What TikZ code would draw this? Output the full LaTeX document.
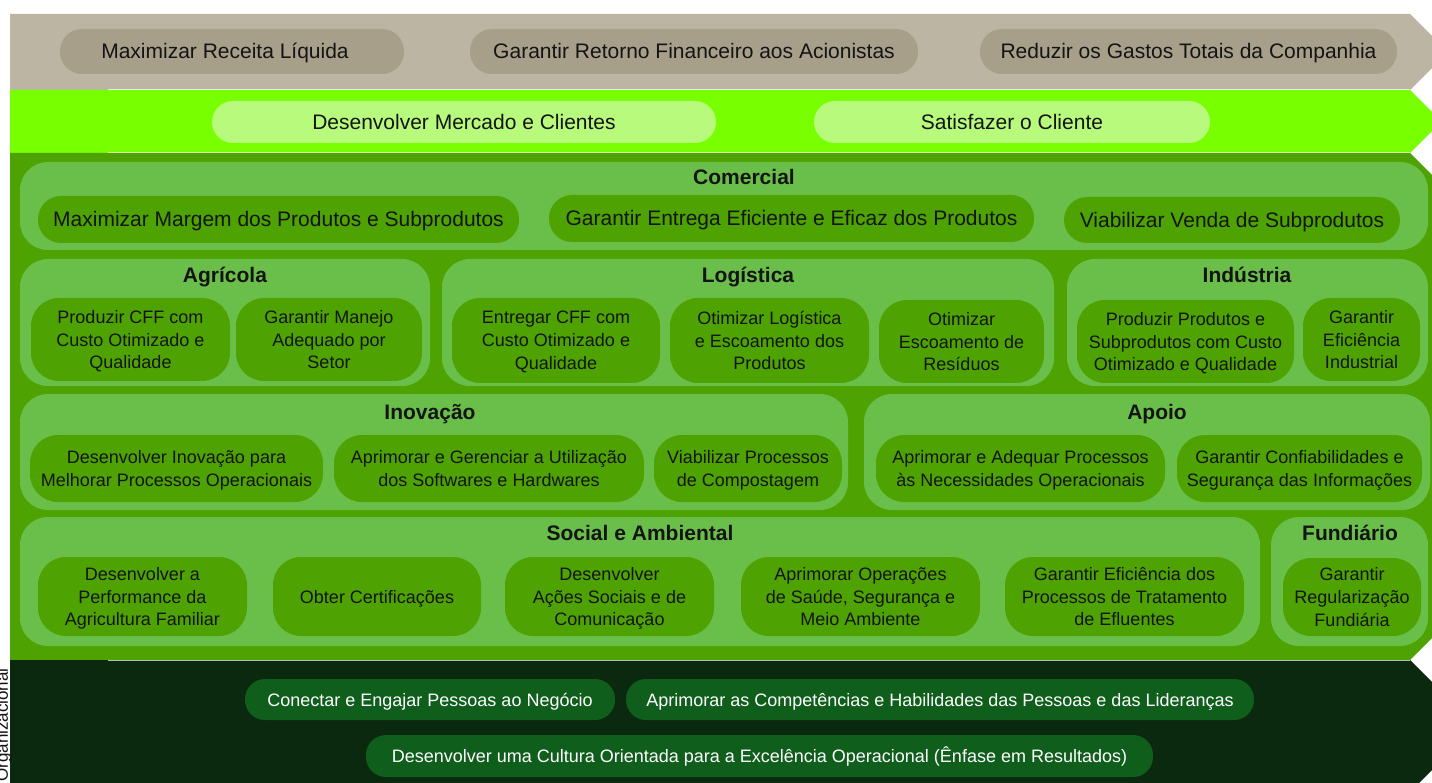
\documentclass[tikz,border=0pt]{standalone}
\usepackage{fontspec}
\setmainfont{Liberation Sans}
\usetikzlibrary{positioning}

\definecolor{bandgrey}{HTML}{BDB5A3}
\definecolor{pillgrey}{HTML}{A89F8A}
\definecolor{bandlime}{HTML}{78FF00}
\definecolor{pilllime}{HTML}{B8FA7C}
\definecolor{bandgreen}{HTML}{4EA303}
\definecolor{panelgreen}{HTML}{6ABF4A}
\definecolor{banddark}{HTML}{0A290E}
\definecolor{pilldark}{HTML}{0F5E1C}
\definecolor{ink}{HTML}{141414}

\tikzset{
  goalpill/.style={rectangle, inner sep=0pt, align=center, text=ink},
  dims/.style 2 args={minimum width=#1pt, minimum height=#2pt},
  oneline/.style={text height=18pt, text depth=3pt},
  finobj/.style={goalpill, oneline, fill=pillgrey, rounded corners=22pt, font=\fontsize{21}{25}\selectfont},
  cliobj/.style={goalpill, oneline, fill=pilllime, rounded corners=21pt, font=\fontsize{21}{25}\selectfont},
  area/.style={rectangle, inner sep=0pt, fill=panelgreen, rounded corners=28pt},
  areatitle/.style={anchor=base, inner sep=0pt, text=ink, font=\bfseries\fontsize{21}{25}\selectfont},
  procobj/.style={goalpill, text depth=-5pt, fill=bandgreen, rounded corners=28pt, font=\fontsize{18}{22.8}\selectfont},
  comobj/.style={goalpill, oneline, fill=bandgreen, rounded corners=23pt, font=\fontsize{21}{25}\selectfont},
  pplobj/.style={goalpill, fill=pilldark, text=white, rounded corners=20pt, text height=16pt, text depth=3pt, font=\fontsize{18}{22}\selectfont},
}

\begin{document}
\begin{tikzpicture}[x=1pt,y=-1pt]
  \useasboundingbox (0,0) rectangle (1432,783);
  \clip (0,0) rectangle (1432,783);

  % perspective bands
  \fill[bandgrey] (10,14) -- (1410,14) -- (1448,52) -- (1410,90) -- (10,90) -- cycle;
  \fill[bandlime] (10,90) -- (1410,90) -- (1441.5,121.5) -- (1410,153) -- (10,153) -- cycle;
  \fill[bandgreen] (10,153) -- (1410,153) -- (1663.5,406.5) -- (1410,660) -- (10,660) -- cycle;
  \fill[banddark] (10,660) -- (1410,660) -- (1476,726) -- (1410,792) -- (10,792) -- cycle;
  \foreach \yy in {90,153,660}
    \draw[white, opacity=0.7, line width=1pt] (108,\yy) -- (1410,\yy);

  % financeira
  \node[finobj, dims={344}{45}] (rev) at (232,51.5) {Maximizar Receita Líquida\hspace*{14pt}};
  \node[finobj, dims={448}{45}] (ret) at (694,51.5) {Garantir Retorno Financeiro aos Acionistas};
  \node[finobj, dims={417}{45}] (cost) at (1188.5,51.5) {Reduzir os Gastos Totais da Companhia};

  % clientes
  \node[cliobj, dims={504}{42}] (mkt) at (464,122) {Desenvolver Mercado e Clientes};
  \node[cliobj, dims={396}{42}] (sat) at (1012,122) {Satisfazer o Cliente};

  % processos internos
  \node[area, dims={1408}{88}] (com) at (724,206) {};
  \node[areatitle] (comt) at (744,184.5) {Comercial};
  \node[comobj, dims={481}{47}] (com1) at (278.5,219.5) {Maximizar Margem dos Produtos e Subprodutos};
  \node[comobj, dims={485}{47}] (com2) at (791.5,218.5) {Garantir Entrega Eficiente e Eficaz dos Produtos};
  \node[comobj, dims={336}{46}] (com3) at (1232,220) {Viabilizar Venda de Subprodutos};

  \node[area, dims={410}{127}] (agr) at (225,322.5) {};
  \node[areatitle] (agrt) at (225,283) {Agrícola};
  \node[procobj, dims={199}{83}] (agr1) at (130.5,339.5) {Produzir CFF com\\Custo Otimizado e\\Qualidade};
  \node[procobj, dims={186}{83}] (agr2) at (329,339.5) {Garantir Manejo\\Adequado por\\Setor};

  \node[area, dims={612}{127}] (log) at (748,322.5) {};
  \node[areatitle] (logt) at (748,282.5) {Logística};
  \node[procobj, dims={208}{85}] (log1) at (556,340.5) {Entregar CFF com\\Custo Otimizado e\\Qualidade};
  \node[procobj, dims={199}{85}] (log2) at (769.5,340.5) {Otimizar Logística\\e Escoamento dos\\Produtos};
  \node[procobj, dims={165}{83}] (log3) at (961.5,341.5) {Otimizar\\Escoamento de\\Resíduos};

  \node[area, dims={361}{127}] (ind) at (1247.5,322.5) {};
  \node[areatitle] (indt) at (1247,282.5) {Indústria};
  \node[procobj, dims={217}{83}] (ind1) at (1185.5,341.5) {Produzir Produtos e\\Subprodutos com Custo\\Otimizado e Qualidade};
  \node[procobj, dims={117}{83}] (ind2) at (1361.5,339.5) {Garantir\\Eficiência\\Industrial};

  \node[area, dims={828}{116}] (ino) at (434,452) {};
  \node[areatitle] (inot) at (430,419.5) {Inovação};
  \node[procobj, dims={293}{67}] (ino1) at (176.5,468.5) {Desenvolver Inovação para\\Melhorar Processos Operacionais};
  \node[procobj, dims={310}{67}] (ino2) at (489,468.5) {Aprimorar e Gerenciar a Utilização\\dos Softwares e Hardwares};
  \node[procobj, dims={188}{67}] (ino3) at (748,468.5) {Viabilizar Processos\\de Compostagem};

  \node[area, dims={566}{116}] (apo) at (1147,452) {};
  \node[areatitle] (apot) at (1157,419.5) {Apoio};
  \node[procobj, dims={289}{67}] (apo1) at (1020.5,468.5) {Aprimorar e Adequar Processos\\às Necessidades Operacionais};
  \node[procobj, dims={245}{67}] (apo2) at (1299.5,468.5) {Garantir Confiabilidades e\\Segurança das Informações};

  \node[area, dims={1240}{129}] (soc) at (640,581.5) {};
  \node[areatitle] (soct) at (640,540.5) {Social e Ambiental};
  \node[procobj, dims={209}{79}] (soc1) at (142.5,596.5) {Desenvolver a\\Performance da\\Agricultura Familiar};
  \node[procobj, dims={208}{79}, text height=16pt, text depth=3pt] (soc2) at (377,596.5) {Obter Certificações};
  \node[procobj, dims={209}{79}] (soc3) at (609.5,596.5) {Desenvolver\\Ações Sociais e de\\Comunicação};
  \node[procobj, dims={239}{79}] (soc4) at (860.5,596.5) {Aprimorar Operações\\de Saúde, Segurança e\\Meio Ambiente};
  \node[procobj, dims={239}{79}] (soc5) at (1124.5,596.5) {Garantir Eficiência dos\\Processos de Tratamento\\de Efluentes};

  \node[area, dims={157}{129}] (fun) at (1349.5,581.5) {};
  \node[areatitle] (funt) at (1350,540.5) {Fundiário};
  \node[procobj, dims={138}{78}] (fun1) at (1352,597) {Garantir\\Regularização\\Fundiária};

  % pessoas
  \node[pplobj, dims={370}{41}] (ppl1) at (430,699.5) {Conectar e Engajar Pessoas ao Negócio};
  \node[pplobj, dims={628}{41}] (ppl2) at (940,699.5) {Aprimorar as Competências e Habilidades das Pessoas e das Lideranças};
  \node[pplobj, dims={787}{42}] (ppl3) at (759.5,756) {Desenvolver uma Cultura Orientada para a Excelência Operacional (Ênfase em Resultados)};

  \node[rotate=90, anchor=base, inner sep=0pt, text=ink, font=\fontsize{17}{20}\selectfont] (org) at (8,725) {Organizacional};
\end{tikzpicture}
\end{document}
